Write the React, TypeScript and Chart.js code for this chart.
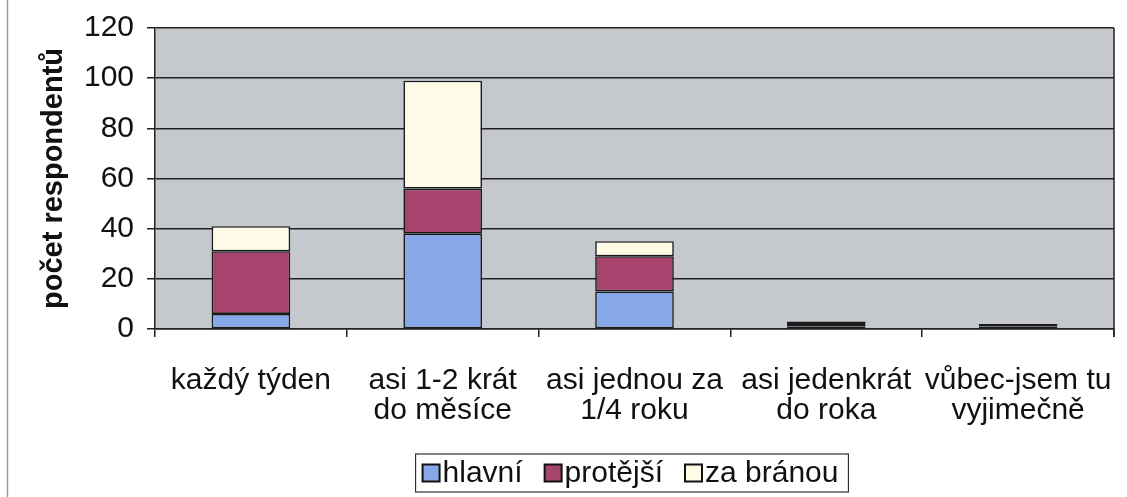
import React, { useEffect, useRef } from "react";
import { Chart, registerables } from "chart.js";

Chart.register(...registerables);

const categories: string[][] = [
  ["každý týden"],
  ["asi 1-2 krát", "do měsíce"],
  ["asi jednou za", "1/4 roku"],
  ["asi jedenkrát", "do roka"],
  ["vůbec-jsem tu", "vyjimečně"],
];
const seriesNames = ["hlavní", "protější", "za bránou"];
const hlavni = [6, 38, 15, 1, 0];
const protejsi = [25, 18, 14, 1, 1];
const zaBranou = [10, 43, 6, 1, 1];
const yMin = 0;
const yMax = 120;
const yStep = 20;
const yTitle = "počet respondentů";

const seriesColors = ["#86a8e8", "#a6446e", "#fffbe6"];
const FONT = "'Liberation Sans', Arial, sans-serif";

const decorPlugin = {
  id: "decor",
  beforeDraw(chart: any) {
    const { ctx, chartArea } = chart;
    ctx.save();
    ctx.fillStyle = "#ffffff";
    ctx.fillRect(0, 0, chart.width, chart.height);
    ctx.fillStyle = "#c5c8cd";
    ctx.fillRect(chartArea.left, chartArea.top, chartArea.right - chartArea.left, chartArea.bottom - chartArea.top);
    ctx.strokeStyle = "#9a9a9a";
    ctx.lineWidth = 1.5;
    ctx.beginPath();
    ctx.moveTo(7.5, 0);
    ctx.lineTo(7.5, chart.height);
    ctx.stroke();
    ctx.restore();
  },
  afterDraw(chart: any) {
    const { ctx, chartArea } = chart;
    ctx.save();
    ctx.strokeStyle = "#222";
    ctx.lineWidth = 1.5;
    ctx.beginPath();
    ctx.moveTo(chartArea.right, chartArea.top);
    ctx.lineTo(chartArea.right, chartArea.bottom + 8);
    ctx.stroke();

    // legend
    const fontSize = 30;
    ctx.font = `${fontSize}px ${FONT}`;
    const box = 17;
    const gapBoxText = 3;
    const gapItems = 22;
    const widths = seriesNames.map((n) => ctx.measureText(n).width);
    const total = widths.reduce((a, w) => a + box + gapBoxText + w, 0) + gapItems * (seriesNames.length - 1);
    const padL = 7;
    const padR = 10;
    const centerX = 632;
    const legTop = 454;
    const legH = 38;
    const legLeft = centerX - (total + padL + padR) / 2;
    ctx.strokeStyle = "#333";
    ctx.lineWidth = 1.2;
    ctx.strokeRect(legLeft, legTop, total + padL + padR, legH);
    let x = legLeft + padL;
    const cy = legTop + legH / 2;
    seriesNames.forEach((name, i) => {
      ctx.fillStyle = seriesColors[i];
      ctx.fillRect(x, cy - box / 2, box, box);
      ctx.strokeStyle = "#111";
      ctx.lineWidth = 2;
      ctx.strokeRect(x, cy - box / 2, box, box);
      ctx.fillStyle = "#111";
      ctx.textBaseline = "middle";
      ctx.textAlign = "left";
      ctx.fillText(name, x + box + gapBoxText, cy + 1);
      x += box + gapBoxText + widths[i] + gapItems;
    });
    ctx.restore();
  },
};

export default function App() {
  const ref = useRef<HTMLCanvasElement | null>(null);
  useEffect(() => {
    if (!ref.current) return;
    const data = [hlavni, protejsi, zaBranou];
    const chart = new Chart(ref.current, {
      type: "bar",
      data: {
        labels: categories,
        datasets: seriesNames.map((name, i) => ({
          label: name,
          data: data[i],
          backgroundColor: seriesColors[i],
          borderColor: "#1a1a1a",
          borderWidth: 1.6,
          borderSkipped: false,
          categoryPercentage: 1,
          barPercentage: 0.41,
        })),
      },
      options: {
        animation: false,
        responsive: false,
        maintainAspectRatio: false,
        layout: { autoPadding: false, padding: { left: 0, right: 13, top: 28, bottom: 0 } },
        plugins: {
          legend: { display: false },
          tooltip: { enabled: false },
        },
        scales: {
          x: {
            stacked: true,
            offset: true,
            grid: {
              offset: true,
              drawOnChartArea: false,
              drawTicks: true,
              tickLength: 8,
              color: "#222",
              lineWidth: 1.5,
            },
            border: { display: true, color: "#222", width: 1.5 },
            ticks: {
              color: "#111",
              font: { family: FONT, size: 30, lineHeight: 1.02 },
              padding: 28,
              autoSkip: false,
              maxRotation: 0,
              minRotation: 0,
            },
            afterFit(scale: any) {
              scale.height = 168;
              scale.paddingLeft = 0;
              scale.paddingRight = 0;
            },
          },
          y: {
            stacked: true,
            min: yMin,
            max: yMax,
            ticks: {
              stepSize: yStep,
              color: "#111",
              font: { family: FONT, size: 30 },
              padding: 13,
            },
            grid: {
              color: "#222",
              lineWidth: 1.5,
              tickLength: 8,
            },
            border: { display: true, color: "#222", width: 1.5 },
            title: {
              display: true,
              text: yTitle,
              color: "#111",
              font: { family: FONT, size: 29, weight: "bold" },
              padding: { top: 37, bottom: 0 },
            },
            afterFit(scale: any) {
              scale.width = 155;
              scale.paddingTop = 0;
              scale.paddingBottom = 0;
            },
          },
        },
      },
      plugins: [decorPlugin],
    });
    return () => chart.destroy();
  }, []);
  return (
    <div style={{ position: "fixed", left: 0, top: 0, width: 1127, height: 497 }}>
      <canvas ref={ref} width={1127} height={497} style={{ width: 1127, height: 497, display: "block" }} />
    </div>
  );
}
